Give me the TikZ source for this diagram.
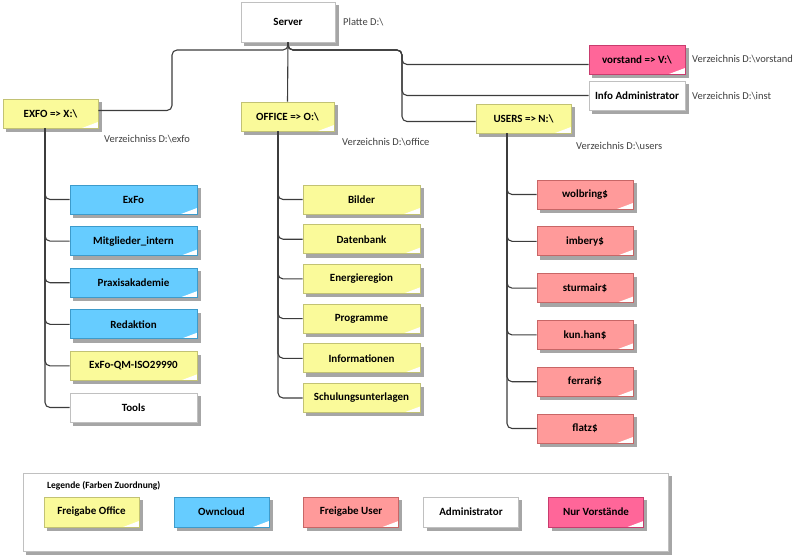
\documentclass[tikz,border=0pt]{standalone}
\usepackage{fontspec}
\setmainfont{Carlito}
\usetikzlibrary{backgrounds}
\definecolor{yelfill}{HTML}{FAFA9A}
\definecolor{yelline}{HTML}{C2C274}
\definecolor{bluefill}{HTML}{66CCFF}
\definecolor{blueline}{HTML}{3D9BCB}
\definecolor{userfill}{HTML}{FF9A9A}
\definecolor{userline}{HTML}{C86666}
\definecolor{vorfill}{HTML}{FF6699}
\definecolor{vorline}{HTML}{C83C6E}
\definecolor{admline}{HTML}{C0C0C0}
\definecolor{connline}{HTML}{3C3C3C}
\definecolor{shadowgray}{HTML}{A6A6A6}
\newcommand\papershadow[1]{%
  \fill[shadowgray] ([xshift=3.5pt,yshift=-3.5pt]#1.south west) rectangle ([xshift=3.5pt,yshift=-3.5pt]#1.north east);}
\begin{document}
\begin{tikzpicture}[
  x=1pt, y=-1pt,
  notebox/.style={draw, line width=0.8pt, minimum width=95, minimum height=29,
    inner sep=1pt, font=\bfseries\fontsize{11}{13}\selectfont,
    path picture={\fill[white] ([xshift=-16pt]path picture bounding box.south east)
      .. controls +(8pt,3pt) .. ([yshift=6pt]path picture bounding box.south east)
      -- (path picture bounding box.south east) -- cycle;}},
  yelbox/.style={notebox, fill=yelfill, draw=yelline},
  bluebox/.style={notebox, fill=bluefill, draw=blueline},
  userbox/.style={notebox, fill=userfill, draw=userline},
  vorbox/.style={notebox, fill=vorfill, draw=vorline},
  admbox/.style={notebox, fill=white, draw=admline},
  dirlabel/.style={anchor=west, inner sep=0pt, text=black!75, font=\fontsize{10.5}{12}\selectfont},
  conn/.style={draw=connline, line width=1.1pt, rounded corners=5pt}
]
\useasboundingbox (0,0) rectangle (800,559);

% top level
\node[admbox, minimum width=94, minimum height=40] (server) at (288,22) {Server};
\node[dirlabel] (platte) at (343,22) {Platte D:\textbackslash};

\node[yelbox] (exfo) at (50.5,113.5) {EXFO => X:\textbackslash};
\node[yelbox, minimum width=93] (office) at (287.5,116.5) {OFFICE => O:\textbackslash};
\node[yelbox] (users) at (523.5,118.5) {USERS => N:\textbackslash};
\node[vorbox, minimum width=96] (vorstand) at (637,59.5) {vorstand => V:\textbackslash};
\node[admbox, minimum width=96] (admin) at (637,95.5) {Info Administrator};

\node[dirlabel] (exfodir) at (104,139) {Verzeichniss D:\textbackslash exfo};
\node[dirlabel] (officedir) at (342,142) {Verzeichnis D:\textbackslash office};
\node[dirlabel] (usersdir) at (576,146) {Verzeichnis D:\textbackslash users};
\node[dirlabel] (vorstanddir) at (692,59) {Verzeichnis D:\textbackslash vorstand};
\node[dirlabel] (admindir) at (692,96) {Verzeichnis D:\textbackslash inst};

\coordinate (busL) at (172,50);
\coordinate (busR) at (402,50);
\draw[conn] (server.south) |- (busL) |- ([yshift=3pt]exfo.east);
\draw[conn] (server.south) -- (office.north);
\draw[conn] (server.south) |- (busR) |- ([yshift=-5pt]vorstand.west);
\draw[conn] (server.south) |- (busR) |- (admin.west);
\draw[conn] (server.south) |- (busR) |- ([yshift=-3pt]users.west);

% EXFO => X:
\coordinate (exfoT) at ([xshift=-5.5pt]exfo.south);
\foreach \txt/\sty [count=\i] in {ExFo/bluebox, Mitglieder\_intern/bluebox,
    Praxisakademie/bluebox, Redaktion/bluebox, ExFo-QM-ISO29990/yelbox, Tools/admbox} {
  \node[\sty, minimum width=127] (exfo\i) at (133.5,157.9+41.6*\i) {\txt};
  \draw[conn] (exfoT) |- (exfo\i.west);
}

% OFFICE => O:
\coordinate (officeT) at ([xshift=-9.5pt]office.south);
\foreach \txt [count=\i] in {Bilder, Datenbank, Energieregion, Programme,
    Informationen, Schulungsunterlagen} {
  \node[yelbox, minimum width=117] (office\i) at (361.5,159.8+39.7*\i) {\txt};
  \draw[conn] (officeT) |- (office\i.west);
}

% USERS => N:
\coordinate (usersT) at ([xshift=-16.5pt]users.south);
\foreach \txt [count=\i] in {wolbring\$, imbery\$, sturmair\$, kun.han\$, ferrari\$, flatz\$} {
  \node[userbox, minimum width=96] (users\i) at (585,147.7+46.8*\i) {\txt};
  \draw[conn] (usersT) |- (users\i.west);
}

% legend
\begin{scope}[on background layer]
  \node[minimum width=645, minimum height=78] (legendsh) at (345.5,512) {};
  \papershadow{legendsh}
  \node[draw=admline, fill=white, line width=0.8pt, minimum width=645, minimum height=78]
    (legend) at (345.5,512) {};
\end{scope}
\node[anchor=west, inner sep=0pt, font=\bfseries\fontsize{9.5}{11}\selectfont]
  (legendtitle) at (47,486) {Legende (Farben Zuordnung)};
\foreach \txt/\sty/\xpos in {Freigabe Office/yelbox/91.5, Owncloud/bluebox/221.5,
    Freigabe User/userbox/351, Administrator/admbox/471, Nur Vorstände/vorbox/596} {
  \node[\sty, minimum height=30] (leg-\sty) at (\xpos,512) {\txt};
}

% shadows
\begin{scope}[on background layer]
  \foreach \n in {server, exfo, office, users, vorstand, admin,
      leg-yelbox, leg-bluebox, leg-userbox, leg-admbox, leg-vorbox}
    {\papershadow{\n}}
  \foreach \g in {exfo, office, users}
    \foreach \i in {1,...,6} {\papershadow{\g\i}}
\end{scope}
\end{tikzpicture}
\end{document}
